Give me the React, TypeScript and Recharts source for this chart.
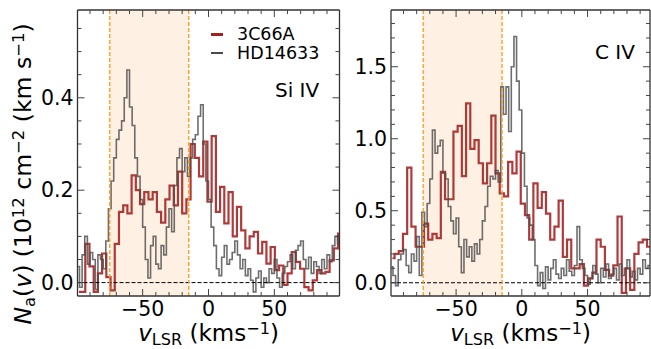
import { LineChart, Line, XAxis, YAxis, ReferenceArea, ReferenceLine } from 'recharts';

// velocity grids (km/s): HD14633 is sampled finer than 3C66A
const GRAY_V = [
  -99, -97, -95, -93, -91, -89, -87, -85, -83, -81, -79, -77, -75, -73, -71, -69, -67, -65, -63, -61,
  -59, -57, -55, -53, -51, -49, -47, -45, -43, -41, -39, -37, -35, -33, -31, -29, -27, -25, -23, -21,
  -19, -17, -15, -13, -11, -9, -7, -5, -3, -1, 1, 3, 5, 7, 9, 11, 13, 15, 17, 19,
  21, 23, 25, 27, 29, 31, 33, 35, 37, 39, 41, 43, 45, 47, 49, 51, 53, 55, 57, 59,
  61, 63, 65, 67, 69, 71, 73, 75, 77, 79, 81, 83, 85, 87, 89, 91, 93, 95, 97, 99,
];
const RED_V = [
  -98.4, -95.2, -92.0, -88.8, -85.6, -82.4, -79.2, -76.0, -72.8, -69.6, -66.4, -63.2, -60.0, -56.8, -53.6, -50.4,
  -47.2, -44.0, -40.8, -37.6, -34.4, -31.2, -28.0, -24.8, -21.6, -18.4, -15.2, -12.0, -8.8, -5.6, -2.4, 0.8,
  4.0, 7.2, 10.4, 13.6, 16.8, 20.0, 23.2, 26.4, 29.6, 32.8, 36.0, 39.2, 42.4, 45.6, 48.8, 52.0,
  55.2, 58.4, 61.6, 64.8, 68.0, 71.2, 74.4, 77.6, 80.8, 84.0, 87.2, 90.4, 93.6, 96.8, 100.0,
];

// Si IV, N_a(v) in 1e12 cm^-2 (km/s)^-1
const SI_GRAY = [
  0.035, -0.01, 0.06, 0.1, 0.04, 0.065, 0.05, -0.015, 0.06, 0.05, 0.03, 0.09, 0.16, 0.22, 0.27, 0.31, 0.33, 0.35, 0.4, 0.46,
  0.38, 0.34, 0.27, 0.23, 0.18, 0.12, 0.05, 0.01, 0.08, 0.1, 0.04, 0.03, 0.08, 0.06, 0.12, 0.16, 0.11, 0.21, 0.27, 0.29,
  0.24, 0.27, 0.23, 0.27, 0.31, 0.32, 0.36, 0.385, 0.3, 0.22, 0.18, 0.12, 0.08, 0.03, 0.015, 0.055, 0.08, 0.04, 0.05, 0.065,
  0.09, 0.06, 0.03, 0.05, 0.015, 0.03, 0.005, -0.02, 0.01, 0.025, -0.01, 0.01, 0.0, 0.03, 0.02, 0.05, 0.01, -0.01, 0.02, 0.035,
  0.045, 0.06, 0.03, 0.07, 0.08, 0.09, 0.05, 0.03, 0.055, 0.02, 0.045, 0.035, 0.02, 0.05, 0.03, 0.06, 0.045, 0.08, 0.1, 0.085,
];
const SI_RED = [
  -0.02, -0.02, 0.084, 0.035, -0.02, 0.02, 0.063, 0.012, -0.017, 0.084, 0.153, 0.167, 0.15, 0.232, 0.2, 0.17,
  0.196, 0.18, 0.196, 0.153, 0.13, 0.18, 0.21, 0.167, 0.24, 0.15, 0.18, 0.3, 0.27, 0.23, 0.305, 0.175,
  0.317, 0.153, 0.207, 0.128, 0.196, 0.1, 0.164, 0.113, 0.074, 0.1, 0.11, 0.063, 0.088, 0.041, 0.077, 0.027,
  0.037, -0.005, 0.02, 0.066, 0.045, 0.03, -0.01, -0.017, 0.005, 0.027, 0.02, 0.023, 0.048, 0.074, 0.106,
];

// C IV
const C_GRAY = [
  0.11, 0.05, -0.02, 0.16, 0.2, 0.23, 0.12, 0.07, 0.2, 0.15, 0.32, 0.05, 0.49, 0.39, 0.55, 0.72, 1.06, 0.9, 0.95, 0.99,
  0.76, 0.72, 0.53, 0.43, 0.34, 0.45, 0.25, 0.07, 0.3, 0.18, 0.25, 0.15, 0.27, 0.2, 0.3, 0.43, 0.53, 0.67, 0.74, 0.72,
  0.78, 0.7, 1.36, 1.17, 1.36, 1.05, 1.5, 1.71, 1.4, 1.2, 0.9, 0.67, 0.45, 0.4, 0.3, 0.12, -0.02, 0.07, -0.04, 0.11,
  0.02, 0.1, 0.16, 0.06, 0.03, 0.1, 0.05, 0.16, 0.08, 0.05, 0.12, 0.39, 0.16, 0.1, 0.05, -0.01, 0.03, 0.12, 0.06, 0.0,
  0.1, 0.04, 0.13, 0.03, 0.06, 0.1, 0.02, 0.13, 0.05, 0.1, 0.16, 0.04, 0.08, 0.02, 0.1, 0.06, 0.16, 0.1, 0.12, 0.05,
];
const C_RED = [
  0.17, 0.2, 0.22, 0.34, 0.8, 0.39, 0.25, 0.25, 0.41, 0.3, 0.34, 0.31, 0.77, 0.58, 0.58, 1.05,
  1.09, 0.74, 1.245, 0.93, 0.99, 0.83, 0.69, 0.83, 1.16, 0.76, 0.62, 0.6, 0.84, 0.76, 0.91, 0.55,
  0.47, 0.3, 0.69, 0.52, 0.63, 0.48, 0.3, 0.39, 0.57, 0.18, 0.3, 0.1, 0.1, 0.13, -0.02, 0.03,
  0.07, 0.3, 0.25, 0.09, 0.05, 0.12, 0.46, -0.07, 0.1, -0.05, 0.2, 0.28, 0.3, 0.25, 0.3,
];

const X_TICKS = [-90, -80, -70, -60, -50, -40, -30, -20, -10, 0, 10, 20, 30, 40, 50, 60, 70, 80, 90];
const X_MAJOR = [-50, 0, 50];
const SI_Y_TICKS = [0, 0.05, 0.1, 0.15, 0.2, 0.25, 0.3, 0.35, 0.4, 0.45, 0.5, 0.55];
const SI_Y_MAJOR = [0, 0.2, 0.4];
const C_Y_TICKS = [0, 0.1, 0.2, 0.3, 0.4, 0.5, 0.6, 0.7, 0.8, 0.9, 1.0, 1.1, 1.2, 1.3, 1.4, 1.5, 1.6, 1.7, 1.8];
const C_Y_MAJOR = [0, 0.5, 1.0, 1.5];
const WINDOW = [-75, -15];

const FONT = '"DejaVu Sans", sans-serif';
const TICK_COLOR = '#444';
const FRAME = { stroke: '#333', strokeWidth: 1.3 };
const RED = '#a3201f';
const GRAY = '#4a4a4a';

const isMajor = (v: number, majors: number[]) => majors.some((m) => Math.abs(m - v) < 1e-6);
const fmtX = (v: number) => (v < 0 ? `\u2212${Math.abs(v)}` : `${v}`);

const bottomTick = (majors: number[]) => (p: any) => {
  const major = isMajor(p.payload.value, majors);
  return (
    <g>
      <line x1={p.x} x2={p.x} y1={p.y} y2={p.y - (major ? 7 : 4)} stroke={TICK_COLOR} />
      {major && (
        <text x={p.x} y={p.y + 20} textAnchor="middle" fontSize={20.5} fill="#000" fontFamily={FONT}>
          {fmtX(p.payload.value)}
        </text>
      )}
    </g>
  );
};

const topTick = (majors: number[]) => (p: any) => {
  const major = isMajor(p.payload.value, majors);
  return <line x1={p.x} x2={p.x} y1={p.y} y2={p.y + (major ? 7 : 4)} stroke={TICK_COLOR} />;
};

const leftTick = (majors: number[]) => (p: any) => {
  const major = isMajor(p.payload.value, majors);
  return (
    <g>
      <line x1={p.x} x2={p.x + (major ? 7 : 4)} y1={p.y} y2={p.y} stroke={TICK_COLOR} />
      {major && (
        <text x={p.x - 4} y={p.y + 7} textAnchor="end" fontSize={20.5} fill="#000" fontFamily={FONT}>
          {p.payload.value.toFixed(1)}
        </text>
      )}
    </g>
  );
};

const rightTick = (majors: number[]) => (p: any) => {
  const major = isMajor(p.payload.value, majors);
  return <line x1={p.x} x2={p.x - (major ? 7 : 4)} y1={p.y} y2={p.y} stroke={TICK_COLOR} />;
};

interface PanelProps {
  left: number;
  width: number;
  yAxisWidth: number;
  marginLeft: number;
  rightWidth: number;
  xDomain: [number, number];
  yDomain: [number, number];
  yTicks: number[];
  yMajor: number[];
  gray: number[];
  red: number[];
}

function Panel({ left, width, yAxisWidth, marginLeft, rightWidth, xDomain, yDomain, yTicks, yMajor, gray, red }: PanelProps) {
  const grayData = GRAY_V.map((v, i) => ({ v, n: gray[i] }));
  const redData = RED_V.map((v, i) => ({ v, n: red[i] }));
  return (
    <div style={{ position: 'absolute', left, top: 0 }}>
      <LineChart width={width} height={349} margin={{ top: 0, right: 0, bottom: 23, left: marginLeft }}>
        <XAxis
          xAxisId="b" type="number" dataKey="v" domain={xDomain} allowDataOverflow
          ticks={X_TICKS} interval={0} tickSize={0} tickMargin={0} tickLine={false}
          tick={bottomTick(X_MAJOR)} axisLine={FRAME} height={30}
        />
        <XAxis
          xAxisId="t" orientation="top" type="number" dataKey="v" domain={xDomain} allowDataOverflow
          ticks={X_TICKS} interval={0} tickSize={0} tickMargin={0} tickLine={false}
          tick={topTick(X_MAJOR)} axisLine={FRAME} height={10}
        />
        <YAxis
          yAxisId="l" type="number" domain={yDomain} allowDataOverflow
          ticks={yTicks} interval={0} tickSize={0} tickMargin={0} tickLine={false}
          tick={leftTick(yMajor)} axisLine={FRAME} width={yAxisWidth}
        />
        <YAxis
          yAxisId="r" orientation="right" type="number" domain={yDomain} allowDataOverflow
          ticks={yTicks} interval={0} tickSize={0} tickMargin={0} tickLine={false}
          tick={rightTick(yMajor)} axisLine={FRAME} width={rightWidth}
        />
        <ReferenceArea xAxisId="b" yAxisId="l" x1={WINDOW[0]} x2={WINDOW[1]} fill="#fef0e3" fillOpacity={1} stroke="none" />
        <Line
          xAxisId="b" yAxisId="l" data={redData} dataKey="n" type="step" dot={false}
          stroke={RED} strokeWidth={2.2} strokeOpacity={0.88} isAnimationActive={false}
        />
        <Line
          xAxisId="b" yAxisId="l" data={grayData} dataKey="n" type="step" dot={false}
          stroke={GRAY} strokeWidth={1.6} strokeOpacity={0.8} isAnimationActive={false}
        />
        <ReferenceLine xAxisId="b" yAxisId="l" y={0} stroke="#000" strokeWidth={1} strokeDasharray="4 2" />
        {WINDOW.map((x) => (
          <ReferenceLine key={x} xAxisId="b" yAxisId="l" x={x} stroke="#ff9a1a" strokeWidth={1.3} strokeDasharray="4 2" />
        ))}
      </LineChart>
    </div>
  );
}

const abs = (left: number, top: number, fontSize: number): React.CSSProperties => ({
  position: 'absolute', left, top, fontSize, lineHeight: 1, whiteSpace: 'nowrap', fontFamily: FONT,
});
const sup: React.CSSProperties = { fontSize: '0.7em', verticalAlign: '0.45em', lineHeight: 0 };
const sub: React.CSSProperties = { fontSize: '0.7em', verticalAlign: '-0.25em', lineHeight: 0 };

function XLabel({ cx }: { cx: number }) {
  return (
    <div style={{ ...abs(cx, 322, 23), transform: 'translateX(-50%)' }}>
      <i>v</i><span style={sub}>LSR</span> (kms<span style={sup}>{'\u2212'}1</span>)
    </div>
  );
}

export default function App() {
  return (
    <div style={{ position: 'absolute', left: 0, top: 0, width: 651, height: 349, overflow: 'hidden', background: '#fff', fontFamily: FONT }}>
      <Panel
        left={0} width={345} yAxisWidth={60} marginLeft={17.5} rightWidth={5.5}
        xDomain={[-99.5, 99.5]} yDomain={[-0.029, 0.59]} yTicks={SI_Y_TICKS} yMajor={SI_Y_MAJOR}
        gray={SI_GRAY} red={SI_RED}
      />
      <Panel
        left={345} width={306} yAxisWidth={46} marginLeft={0} rightWidth={1}
        xDomain={[-99.5, 97.5]} yDomain={[-0.092, 1.894]} yTicks={C_Y_TICKS} yMajor={C_Y_MAJOR}
        gray={C_GRAY} red={C_RED}
      />

      {/* legend */}
      <div style={{ position: 'absolute', left: 211, top: 33, width: 12, height: 2.5, background: RED }} />
      <div style={abs(237, 26, 17.5)}>3C66A</div>
      <div style={{ position: 'absolute', left: 211, top: 51.5, width: 12, height: 2, background: GRAY }} />
      <div style={abs(237, 45, 17.5)}>HD14633</div>

      <div style={abs(275, 80, 20)}>Si IV</div>
      <div style={abs(595, 42, 20)}>C IV</div>

      <div style={{ ...abs(24, 174, 23.5), transform: 'translate(-50%, -50%) rotate(-90deg)' }}>
        <i>N</i><span style={sub}>a</span>(<i>v</i>) (10<span style={sup}>12</span> cm<span style={sup}>{'\u2212'}2</span> (km s<span style={sup}>{'\u2212'}1</span>)
      </div>
      <XLabel cx={208.5} />
      <XLabel cx={520.5} />
    </div>
  );
}
